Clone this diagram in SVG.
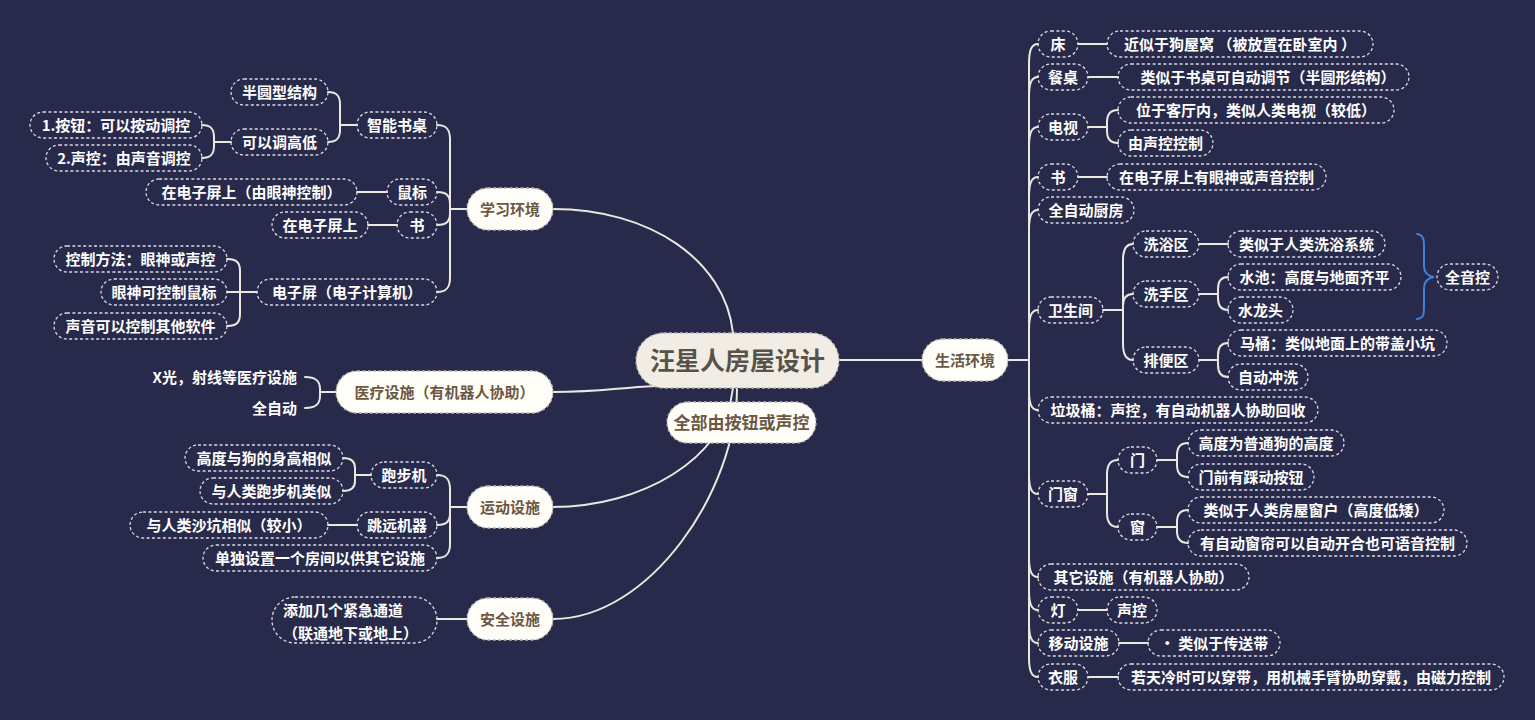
<svg xmlns="http://www.w3.org/2000/svg" width="1535" height="720" viewBox="0 0 1535 720">
<style>
text{font-family:"Noto Sans CJK SC","Noto Sans",sans-serif;font-weight:700;}
.ln{fill:none;stroke:#ece8e0;stroke-width:2;stroke-linecap:round}
.n rect{fill:none;stroke:#d9d9e2;stroke-width:1.3;stroke-dasharray:3 2.4}
.n text{fill:#ffffff;font-size:15px;text-anchor:middle}
.p text{fill:#ffffff;font-size:15px;text-anchor:end}
.m rect{fill:#fffdf8;stroke:#bdb7ad;stroke-width:1.3;stroke-dasharray:3 2.4}
.m text{fill:#6c5742;font-size:15px;text-anchor:middle}
.r rect{fill:#f1ede5;stroke:#bdb7ad;stroke-width:1.3;stroke-dasharray:3 2.4}
.r text{fill:#57524a;font-size:25px;text-anchor:middle}
.br{fill:none;stroke:#3f80d6;stroke-width:2;stroke-linecap:round}
</style>
<rect width="1535" height="720" fill="#282a4b"/>
<g id="connectors">
<path class="ln" d="M553 209 C650 209 725 260 733 333"/>
<path class="ln" d="M553 392 C600 392 615 388 655 386"/>
<path class="ln" d="M733 388 C725 460 640 507 553 507"/>
<path class="ln" d="M737 388 C737 490 650 619 553 619"/>
<path class="ln" d="M839 360 H922"/>
<path class="ln" d="M467 209 H450 V139 C450 130 447 125 437 125"/>
<path class="ln" d="M450 209 V204 C450 196 447 192 437 192"/>
<path class="ln" d="M450 209 V213 C450 221 447 225 437 225"/>
<path class="ln" d="M450 209 V278 C450 287 447 292 437 292"/>
<path class="ln" d="M357 125 H340 V104 C340 96 337 92 328 92"/>
<path class="ln" d="M340 125 V130 C340 138 337 142 328 142"/>
<path class="ln" d="M231 142 H214 V137 C214 129 211 125 202 125"/>
<path class="ln" d="M214 142 V146 C214 154 211 158 202 158"/>
<path class="ln" d="M387 192 H357"/>
<path class="ln" d="M397 225 H368"/>
<path class="ln" d="M257 292 H240 V271 C240 263 237 259 227 259"/>
<path class="ln" d="M240 292 H227"/>
<path class="ln" d="M240 292 V314 C240 322 237 326 227 326"/>
<path class="ln" d="M336 392 H320 V389 C320 381 316 377 305 377"/>
<path class="ln" d="M320 392 V396 C320 404 316 408 305 408"/>
<path class="ln" d="M467 507 H450 V489 C450 480 447 475 437 475"/>
<path class="ln" d="M450 507 V513 C450 521 447 525 437 525"/>
<path class="ln" d="M450 507 V544 C450 553 447 558 437 558"/>
<path class="ln" d="M371 475 H355 V468 C355 462 352 458 343 458"/>
<path class="ln" d="M355 475 V481 C355 487 352 491 343 491"/>
<path class="ln" d="M357 525 H328"/>
<path class="ln" d="M467 619 H437"/>
<path class="ln" d="M1008 360 H1029"/>
<path class="ln" d="M1029 360 V64 C1029 51 1031 44 1038 44"/>
<path class="ln" d="M1029 360 V97 C1029 84 1031 77 1038 77"/>
<path class="ln" d="M1029 360 V147 C1029 134 1031 127 1038 127"/>
<path class="ln" d="M1029 360 V197 C1029 184 1031 177 1038 177"/>
<path class="ln" d="M1029 360 V230 C1029 217 1031 210 1038 210"/>
<path class="ln" d="M1029 360 V330 C1029 317 1031 310 1038 310"/>
<path class="ln" d="M1029 360 V390 C1029 403 1031 410 1038 410"/>
<path class="ln" d="M1029 360 V474 C1029 487 1031 494 1038 494"/>
<path class="ln" d="M1029 360 V557 C1029 570 1031 577 1038 577"/>
<path class="ln" d="M1029 360 V590 C1029 603 1031 610 1038 610"/>
<path class="ln" d="M1029 360 V623 C1029 636 1031 643 1038 643"/>
<path class="ln" d="M1029 360 V657 C1029 670 1031 677 1038 677"/>
<path class="ln" d="M1078 44 H1107"/>
<path class="ln" d="M1088 77 H1118"/>
<path class="ln" d="M1078 177 H1107"/>
<path class="ln" d="M1078 610 H1107"/>
<path class="ln" d="M1119 643 H1148"/>
<path class="ln" d="M1088 677 H1118"/>
<path class="ln" d="M1199 244 H1228"/>
<path class="ln" d="M1088 127 H1107 V122 C1107 114 1110 110 1118 110"/>
<path class="ln" d="M1107 127 V131 C1107 139 1110 143 1118 143"/>
<path class="ln" d="M1103 310 H1123 V260 C1123 250 1126 244 1133 244"/>
<path class="ln" d="M1123 310 V306 C1123 298 1126 294 1133 294"/>
<path class="ln" d="M1123 310 V344 C1123 354 1126 360 1133 360"/>
<path class="ln" d="M1199 294 H1218 V289 C1218 281 1221 277 1228 277"/>
<path class="ln" d="M1218 294 V298 C1218 306 1221 310 1228 310"/>
<path class="ln" d="M1199 360 H1218 V355 C1218 347 1221 343 1228 343"/>
<path class="ln" d="M1218 360 V365 C1218 373 1221 377 1228 377"/>
<path class="ln" d="M1088 494 H1107 V474 C1107 465 1110 460 1118 460"/>
<path class="ln" d="M1107 494 V513 C1107 522 1110 527 1118 527"/>
<path class="ln" d="M1157 460 H1177 V455 C1177 447 1180 443 1188 443"/>
<path class="ln" d="M1177 460 V465 C1177 473 1180 477 1188 477"/>
<path class="ln" d="M1157 527 H1177 V522 C1177 514 1180 510 1188 510"/>
<path class="ln" d="M1177 527 V531 C1177 539 1180 543 1188 543"/>
<path class="br" d="M1417 234 C1424 235 1424 240 1424 248 L1424 266 C1424 273 1428 276 1434 277 C1428 278 1424 281 1424 288 L1424 306 C1424 314 1424 318 1417 319"/>
</g>
<g id="root" class="r"><rect x="636" y="333" width="203" height="55" rx="27.5"/><text x="737.5" y="370">汪星人房屋设计</text></g>
<g id="all-control" class="m"><rect x="667" y="402" width="149" height="41" rx="20.5"/><text x="741.5" y="428.5" style="font-size:17px">全部由按钮或声控</text></g>
<g id="study" class="m"><rect x="467" y="188" width="86" height="42" rx="21"/><text x="510" y="214.5">学习环境</text></g>
<g id="desk" class="n"><rect x="357" y="112" width="80" height="26" rx="13"/><text x="397" y="130.5">智能书桌</text></g>
<g id="semi" class="n"><rect x="231" y="79" width="97" height="26" rx="13"/><text x="279.5" y="97.5">半圆型结构</text></g>
<g id="adjust" class="n"><rect x="231" y="129" width="97" height="26" rx="13"/><text x="279.5" y="147.5">可以调高低</text></g>
<g id="button" class="n"><rect x="30" y="112" width="172" height="26" rx="13"/><text x="116" y="130.5">1.按钮：可以按动调控</text></g>
<g id="voice" class="n"><rect x="46" y="145" width="156" height="26" rx="13"/><text x="124" y="163.5">2.声控：由声音调控</text></g>
<g id="mouse" class="n"><rect x="387" y="179" width="50" height="26" rx="13"/><text x="412" y="197.5">鼠标</text></g>
<g id="mouse-c" class="n"><rect x="146" y="179" width="211" height="26" rx="13"/><text x="251.5" y="197.5">在电子屏上（由眼神控制）</text></g>
<g id="book-l" class="n"><rect x="397" y="212" width="40" height="26" rx="13"/><text x="417" y="230.5">书</text></g>
<g id="book-l-c" class="n"><rect x="272" y="212" width="96" height="26" rx="13"/><text x="320" y="230.5">在电子屏上</text></g>
<g id="screen" class="n"><rect x="257" y="279" width="180" height="26" rx="13"/><text x="347" y="297.5">电子屏（电子计算机）</text></g>
<g id="screen-1" class="n"><rect x="54" y="246" width="173" height="26" rx="13"/><text x="140.5" y="264.5">控制方法：眼神或声控</text></g>
<g id="screen-2" class="n"><rect x="101" y="279" width="126" height="26" rx="13"/><text x="164" y="297.5">眼神可控制鼠标</text></g>
<g id="screen-3" class="n"><rect x="54" y="313" width="173" height="26" rx="13"/><text x="140.5" y="331.5">声音可以控制其他软件</text></g>
<g id="medical" class="m"><rect x="336" y="371" width="217" height="42" rx="21"/><text x="444.5" y="397.5">医疗设施（有机器人协助）</text></g>
<g id="medical-1" class="p"><text x="297" y="382.5">X光，射线等医疗设施</text></g>
<g id="medical-2" class="p"><text x="297" y="413.5">全自动</text></g>
<g id="sport" class="m"><rect x="467" y="486" width="86" height="42" rx="21"/><text x="510" y="512.5">运动设施</text></g>
<g id="treadmill" class="n"><rect x="371" y="462" width="66" height="26" rx="13"/><text x="404" y="480.5">跑步机</text></g>
<g id="treadmill-1" class="n"><rect x="185" y="445" width="158" height="26" rx="13"/><text x="264" y="463.5">高度与狗的身高相似</text></g>
<g id="treadmill-2" class="n"><rect x="200" y="478" width="143" height="26" rx="13"/><text x="271.5" y="496.5">与人类跑步机类似</text></g>
<g id="jump" class="n"><rect x="357" y="512" width="80" height="26" rx="13"/><text x="397" y="530.5">跳远机器</text></g>
<g id="jump-1" class="n"><rect x="130" y="512" width="198" height="26" rx="13"/><text x="229" y="530.5">与人类沙坑相似（较小）</text></g>
<g id="room" class="n"><rect x="203" y="545" width="234" height="26" rx="13"/><text x="320" y="563.5">单独设置一个房间以供其它设施</text></g>
<g id="safety" class="m"><rect x="467" y="598" width="86" height="42" rx="21"/><text x="510" y="624.5">安全设施</text></g>
<g id="exit" class="n"><rect x="272" y="597" width="165" height="46" rx="23"/><text x="283" y="615.5" style="text-anchor:start">添加几个紧急通道</text><text x="283" y="638.5" style="text-anchor:start">（联通地下或地上）</text></g>
<g id="life" class="m"><rect x="922" y="339" width="86" height="42" rx="21"/><text x="965" y="365.5">生活环境</text></g>
<g id="bed" class="n"><rect x="1038" y="31" width="40" height="26" rx="13"/><text x="1058" y="49.5">床</text></g>
<g id="bed-c" class="n"><rect x="1107" y="31" width="266" height="26" rx="13"/><text x="1240" y="49.5">近似于狗屋窝 （被放置在卧室内 ）</text></g>
<g id="table" class="n"><rect x="1038" y="64" width="50" height="26" rx="13"/><text x="1063" y="82.5">餐桌</text></g>
<g id="table-c" class="n"><rect x="1118" y="64" width="291" height="26" rx="13"/><text x="1268" y="82.5">类似于书桌可自动调节（半圆形结构）</text></g>
<g id="tv" class="n"><rect x="1038" y="114" width="50" height="26" rx="13"/><text x="1063" y="132.5">电视</text></g>
<g id="tv-1" class="n"><rect x="1118" y="97" width="276" height="26" rx="13"/><text x="1256" y="115.5">位于客厅内，类似人类电视（较低）</text></g>
<g id="tv-2" class="n"><rect x="1118" y="130" width="95" height="26" rx="13"/><text x="1165.5" y="148.5">由声控控制</text></g>
<g id="book-r" class="n"><rect x="1038" y="164" width="40" height="26" rx="13"/><text x="1058" y="182.5">书</text></g>
<g id="book-r-c" class="n"><rect x="1107" y="164" width="219" height="26" rx="13"/><text x="1216.5" y="182.5">在电子屏上有眼神或声音控制</text></g>
<g id="kitchen" class="n"><rect x="1038" y="197" width="96" height="26" rx="13"/><text x="1086" y="215.5">全自动厨房</text></g>
<g id="wc" class="n"><rect x="1038" y="297" width="65" height="26" rx="13"/><text x="1070.5" y="315.5">卫生间</text></g>
<g id="bath" class="n"><rect x="1133" y="231" width="66" height="26" rx="13"/><text x="1166" y="249.5">洗浴区</text></g>
<g id="bath-c" class="n"><rect x="1228" y="231" width="157" height="26" rx="13"/><text x="1306.5" y="249.5">类似于人类洗浴系统</text></g>
<g id="wash" class="n"><rect x="1133" y="281" width="66" height="26" rx="13"/><text x="1166" y="299.5">洗手区</text></g>
<g id="wash-1" class="n"><rect x="1228" y="264" width="173" height="26" rx="13"/><text x="1314.5" y="282.5">水池：高度与地面齐平</text></g>
<g id="wash-2" class="n"><rect x="1228" y="297" width="65" height="26" rx="13"/><text x="1260.5" y="315.5">水龙头</text></g>
<g id="toilet" class="n"><rect x="1133" y="347" width="66" height="26" rx="13"/><text x="1166" y="365.5">排便区</text></g>
<g id="toilet-1" class="n"><rect x="1228" y="330" width="219" height="26" rx="13"/><text x="1337.5" y="348.5">马桶：类似地面上的带盖小坑</text></g>
<g id="toilet-2" class="n"><rect x="1228" y="364" width="80" height="26" rx="13"/><text x="1268" y="382.5">自动冲洗</text></g>
<g id="all-voice" class="n"><rect x="1437" y="264" width="61" height="26" rx="13"/><text x="1467.5" y="282.5">全音控</text></g>
<g id="trash" class="n"><rect x="1038" y="397" width="280" height="26" rx="13"/><text x="1178" y="415.5">垃圾桶：声控，有自动机器人协助回收</text></g>
<g id="doorwin" class="n"><rect x="1038" y="481" width="50" height="26" rx="13"/><text x="1063" y="499.5">门窗</text></g>
<g id="door" class="n"><rect x="1118" y="447" width="39" height="26" rx="13"/><text x="1137.5" y="465.5">门</text></g>
<g id="door-1" class="n"><rect x="1188" y="430" width="156" height="26" rx="13"/><text x="1266" y="448.5">高度为普通狗的高度</text></g>
<g id="door-2" class="n"><rect x="1188" y="464" width="126" height="26" rx="13"/><text x="1251" y="482.5">门前有踩动按钮</text></g>
<g id="window" class="n"><rect x="1118" y="514" width="39" height="26" rx="13"/><text x="1137.5" y="532.5">窗</text></g>
<g id="window-1" class="n"><rect x="1188" y="497" width="256" height="26" rx="13"/><text x="1316" y="515.5">类似于人类房屋窗户（高度低矮）</text></g>
<g id="window-2" class="n"><rect x="1188" y="530" width="279" height="26" rx="13"/><text x="1327.5" y="548.5">有自动窗帘可以自动开合也可语音控制</text></g>
<g id="other" class="n"><rect x="1038" y="564" width="211" height="26" rx="13"/><text x="1143.5" y="582.5">其它设施（有机器人协助）</text></g>
<g id="light" class="n"><rect x="1038" y="597" width="40" height="26" rx="13"/><text x="1058" y="615.5">灯</text></g>
<g id="light-c" class="n"><rect x="1107" y="597" width="50" height="26" rx="13"/><text x="1132" y="615.5">声控</text></g>
<g id="move" class="n"><rect x="1038" y="630" width="81" height="26" rx="13"/><text x="1078.5" y="648.5">移动设施</text></g>
<g id="move-c" class="n"><rect x="1148" y="630" width="132" height="26" rx="13"/><text x="1214" y="648.5">· 类似于传送带</text></g>
<g id="clothes" class="n"><rect x="1038" y="664" width="50" height="26" rx="13"/><text x="1063" y="682.5">衣服</text></g>
<g id="clothes-c" class="n"><rect x="1118" y="664" width="386" height="26" rx="13"/><text x="1311" y="682.5">若天冷时可以穿带，用机械手臂协助穿戴，由磁力控制</text></g>
</svg>
